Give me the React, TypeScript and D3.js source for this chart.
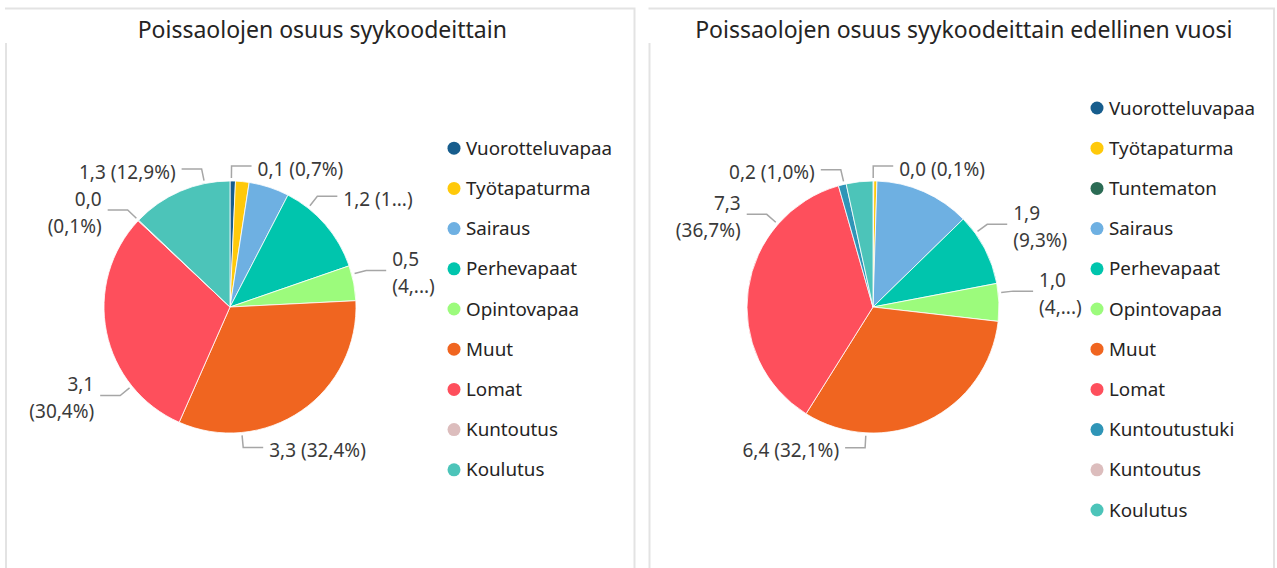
import React from "react";
import * as d3 from "d3";

// ---------- data ----------
const leftTitle = "Poissaolojen osuus syykoodeittain";
const leftCategories = [
  "Vuorotteluvapaa", "Työtapaturma", "Sairaus", "Perhevapaat", "Opintovapaa",
  "Muut", "Lomat", "Kuntoutus", "Koulutus",
];
const leftValues = [0.071, 0.177, 0.528, 1.234, 0.459, 3.305, 3.1, 0.01, 1.316];
const leftLabels: (string | null)[] = [
  "0,1 (0,7%)", null, null, "1,2 (1...)", "0,5\n(4,...)",
  "3,3 (32,4%)", "3,1\n(30,4%)", "0,0\n(0,1%)", "1,3 (12,9%)",
];

const rightTitle = "Poissaolojen osuus syykoodeittain edellinen vuosi";
const rightCategories = [
  "Vuorotteluvapaa", "Työtapaturma", "Tuntematon", "Sairaus", "Perhevapaat",
  "Opintovapaa", "Muut", "Lomat", "Kuntoutustuki", "Kuntoutus", "Koulutus",
];
const rightValues = [0.02, 0.08, 0, 2.43, 1.85, 0.96, 6.39, 7.3, 0.2, 0, 0.68];
const rightLabels: (string | null)[] = [
  "0,0 (0,1%)", null, null, null, "1,9\n(9,3%)",
  "1,0\n(4,...)", "6,4 (32,1%)", "7,3\n(36,7%)", "0,2 (1,0%)", null, null,
];

// ---------- styles ----------
const colorByCategory: Record<string, string> = {
  Vuorotteluvapaa: "#175d8d",
  "Työtapaturma": "#ffc90a",
  Tuntematon: "#2b6b54",
  Sairaus: "#6eb0e2",
  Perhevapaat: "#00c5ad",
  Opintovapaa: "#9cfb7c",
  Muut: "#f06520",
  Lomat: "#fe4f5c",
  Kuntoutustuki: "#2f95b7",
  Kuntoutus: "#dcbdbd",
  Koulutus: "#4cc4b9",
};

const FONT = "'Segoe UI', 'Noto Sans', sans-serif";
const W = 1277;
const H = 568;

type PanelProps = {
  x0: number;
  x1: number;
  title: string;
  categories: string[];
  values: number[];
  labels: (string | null)[];
  cx: number;
  cy: number;
  r: number;
  legendX: number;
};

function vertDist(a: number) {
  const t = Math.PI * 2;
  const m = ((a % t) + t) % t;
  return Math.min(m, Math.abs(Math.PI - m), t - m);
}

function PiePanel(p: PanelProps) {
  const pie = d3.pie<number>().sort(null).value((d) => d);
  const arcs = pie(p.values);
  const arcGen = d3.arc<d3.PieArcDatum<number>>().innerRadius(0).outerRadius(p.r);
  const legendCenterY = 309;
  const legendStep = 40.2;
  const legendY0 = legendCenterY - ((p.categories.length - 1) / 2) * legendStep;

  return (
    <g>
      {/* panel frame */}
      <path
        d={`M${p.x0},${H} L${p.x0},43 M${p.x0 - 1},8.5 L${p.x1},8.5 L${p.x1},${H}`}
        fill="none"
        stroke="#e3e3e3"
        strokeWidth={2}
      />
      <text
        x={(p.x0 + p.x1) / 2 + 2}
        y={38}
        textAnchor="middle"
        fontFamily={FONT}
        fontSize={23}
        fill="#252423"
      >
        {p.title}
      </text>
      <g transform={`translate(${p.cx},${p.cy})`}>
        {arcs.map((a, i) => (
          <path
            key={i}
            d={arcGen(a) || ""}
            fill={colorByCategory[p.categories[i]]}
            stroke="#ffffff"
            strokeWidth={a.endAngle - a.startAngle > 0 ? 0.8 : 0}
          />
        ))}
        {arcs.map((a, i) => {
          const lab = p.labels[i];
          if (!lab) return null;
          const span = a.endAngle - a.startAngle;
          const q1 = a.startAngle + span * 0.25;
          const q3 = a.startAngle + span * 0.75;
          const ang = vertDist(q1) <= vertDist(q3) ? q1 : q3;
          const right = ang < Math.PI;
          const [x0, y0] = d3.pointRadial(ang, p.r + 3);
          const [x1, y1] = d3.pointRadial(ang, p.r + 15);
          const x2 = x1 + (right ? 20 : -20);
          const tx = x2 + (right ? 6 : -6);
          const lines = lab.split("\n");
          const centers =
            lines.length === 1 ? [y1 + 3] : [y1 - 11, y1 + 16];
          return (
            <g key={"l" + i}>
              <polyline
                points={`${x0},${y0} ${x1},${y1} ${x2},${y1}`}
                fill="none"
                stroke="#a6a6a6"
                strokeWidth={1.5}
              />
              {lines.map((ln, k) => (
                <text
                  key={k}
                  x={tx}
                  y={centers[k]}
                  dy="0.35em"
                  textAnchor={right ? "start" : "end"}
                  fontFamily={FONT}
                  fontSize={19}
                  fill="#3a3a3a"
                >
                  {ln}
                </text>
              ))}
            </g>
          );
        })}
      </g>
      <g>
        {p.categories.map((c, i) => {
          const y = legendY0 + i * legendStep;
          return (
            <g key={c}>
              <circle cx={p.legendX} cy={y} r={6.5} fill={colorByCategory[c]} />
              <text
                x={p.legendX + 12}
                y={y}
                dy="0.35em"
                fontFamily={FONT}
                fontSize={18.8}
                fill="#252423"
              >
                {c}
              </text>
            </g>
          );
        })}
      </g>
    </g>
  );
}

export default function App() {
  return (
    <div style={{ position: "absolute", left: 0, top: 0 }}>
      <svg width={W} height={H} style={{ display: "block", background: "#ffffff" }}>
        <PiePanel
          x0={6}
          x1={634.5}
          title={leftTitle}
          categories={leftCategories}
          values={leftValues}
          labels={leftLabels}
          cx={230}
          cy={307}
          r={126}
          legendX={454}
        />
        <PiePanel
          x0={649.5}
          x1={1274}
          title={rightTitle}
          categories={rightCategories}
          values={rightValues}
          labels={rightLabels}
          cx={873}
          cy={307}
          r={126}
          legendX={1097}
        />
      </svg>
    </div>
  );
}
